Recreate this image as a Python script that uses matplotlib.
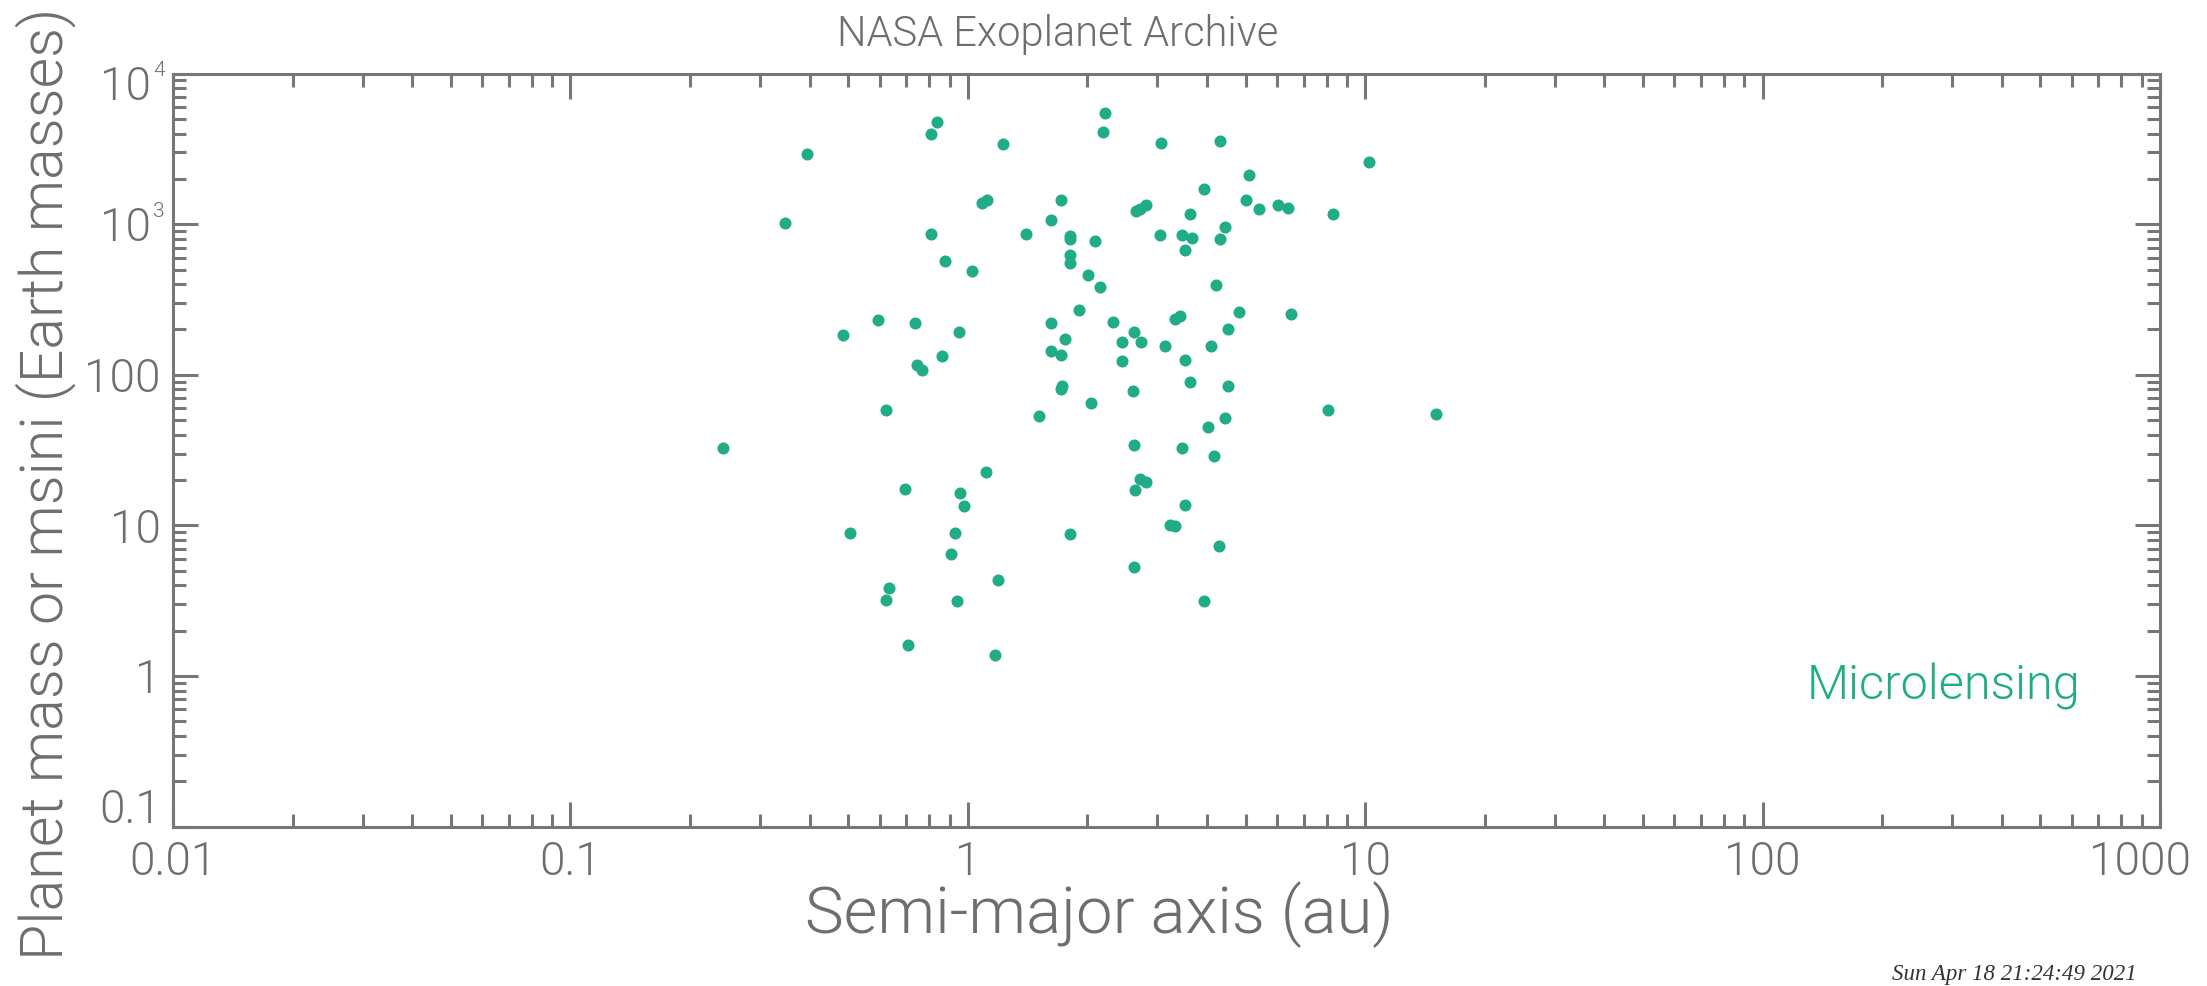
import matplotlib
matplotlib.use("Agg")
import matplotlib.pyplot as plt
from matplotlib import font_manager as fm
from matplotlib import transforms as mtransforms

# ---------------- data ----------------
semi_major_axis_au = [
    0.836, 0.807, 0.394, 0.346, 0.807, 0.877, 0.596, 0.737, 0.485, 0.952,
    0.859, 0.746, 0.769,
    2.215, 2.186, 1.223, 3.059, 3.940, 1.086, 1.115, 1.714, 1.615, 1.397,
    1.813, 1.813, 2.087, 1.813, 1.813, 1.025, 2.012, 2.157, 2.646, 2.719,
    2.815, 3.625, 3.047, 3.468, 3.661, 3.515, 1.902, 1.615, 2.316, 1.761,
    1.615, 1.714, 2.616, 2.440, 2.735, 3.318, 3.415, 3.126, 4.086, 3.515,
    2.440, 3.625,
    4.322, 10.22, 5.113, 5.024, 5.405, 6.047, 6.409, 8.318, 4.431, 4.322,
    4.206, 4.814, 6.521, 4.528, 4.528,
    0.624, 0.242, 0.696, 0.505, 0.930, 0.908, 0.635, 0.624, 0.938, 0.708,
    1.727, 1.714, 2.605, 2.039, 1.512, 4.027, 2.616, 3.468, 4.175, 1.108,
    0.956, 0.977, 2.719, 2.815, 2.636, 3.515, 3.222, 3.318, 1.813, 4.297,
    2.616, 1.190, 3.940, 1.169,
    8.049, 15.08, 4.450,
]
planet_mass_earth = [
    4790, 3970, 2907, 1012, 860, 569, 232, 220, 184, 193,
    134, 116.5, 107,
    5491, 4108, 3388, 3455, 1702, 1387, 1452, 1445, 1060, 860,
    838, 793, 776, 623, 549, 490, 461, 384, 1216, 1266,
    1345, 1162, 843, 843, 808, 676, 270, 221, 224, 174,
    144, 136, 193, 164, 164, 233, 244, 156, 156, 126,
    123, 89.4,
    3579, 2597, 2128, 1445, 1254, 1345, 1285, 1162, 952, 800,
    392, 260, 252, 201, 84.1,
    58.3, 32.5, 17.4, 8.85, 8.85, 6.48, 3.82, 3.18, 3.14, 1.61,
    83.8, 80.0, 77.6, 64.9, 53.2, 44.7, 34.0, 32.8, 28.9, 22.7,
    16.4, 13.5, 20.3, 19.3, 17.2, 13.6, 10.0, 9.9, 8.75, 7.32,
    5.31, 4.33, 3.14, 1.38,
    58.3, 54.8, 51.3,
]

x_ticks = [0.01, 0.1, 1, 10, 100, 1000]
x_tick_labels = ["0.01", "0.1", "1", "10", "100", "1000"]
y_ticks = [0.1, 1, 10, 100, 1000, 10000]
y_tick_bases = ["0.1", "1", "10", "100", "10", "10"]
y_tick_exps = ["", "", "", "", "3", "4"]

title_text = "NASA Exoplanet Archive"
x_label = "Semi-major axis (au)"
y_label = "Planet mass or msini (Earth masses)"
series_label = "Microlensing"
date_text = "Sun Apr 18 21:24:49 2021"

# ---------------- style ----------------
W, H, DPI = 2207, 987, 100
axis_gray = "#777777"
text_gray = "#6e6e6e"
teal = "#20ac86"


def find_light_font():
    fams = ["Roboto", "Lato", "Open Sans", "Noto Sans", "Inter"]
    for target in (300, 200, 100):
        for fam in fams:
            for f in fm.fontManager.ttflist:
                if f.name != fam or f.style != "normal":
                    continue
                w = f.weight
                if isinstance(w, str):
                    w = fm.weight_dict.get(w, 400)
                if w == target:
                    return f.fname
    return None


light_path = find_light_font()


def fp(size):
    if light_path:
        return fm.FontProperties(fname=light_path, size=size)
    return fm.FontProperties(family="DejaVu Sans", size=size)


fig = plt.figure(figsize=(W / DPI, H / DPI), dpi=DPI)
fig.patch.set_facecolor("white")

ax_left, ax_right, ax_top, ax_bottom = 173, 2160, 74.6, 827.6
ax = fig.add_axes([ax_left / W, 1 - ax_bottom / H,
                   (ax_right - ax_left) / W, (ax_bottom - ax_top) / H])

ax.scatter(semi_major_axis_au, planet_mass_earth, s=75, c=teal,
           linewidths=0, zorder=3)

ax.set_xscale("log")
ax.set_yscale("log")
ax.set_xlim(x_ticks[0], x_ticks[-1])
ax.set_ylim(y_ticks[0], y_ticks[-1])
ax.set_xticks(x_ticks)
ax.set_yticks(y_ticks)

for sp in ax.spines.values():
    sp.set_color(axis_gray)
    sp.set_linewidth(2.2)

ax.tick_params(which="both", direction="in", top=True, right=True,
               bottom=True, left=True, colors=axis_gray, width=2.2,
               labelbottom=False, labelleft=False)
ax.tick_params(which="major", length=18)
ax.tick_params(which="minor", length=9.4)

# x tick labels
tick_size = 33
xtrans = mtransforms.blended_transform_factory(ax.transData, ax.transAxes)
for val, lab in zip(x_ticks, x_tick_labels):
    dx = -20 if val == x_ticks[-1] else 0
    tr = mtransforms.offset_copy(xtrans, fig=fig, x=dx, y=-47, units="dots")
    ax.text(val, 0, lab, transform=tr, ha="center", va="baseline",
            fontproperties=fp(tick_size), color=text_gray, clip_on=False)

# y tick labels
ytrans = mtransforms.blended_transform_factory(ax.transAxes, ax.transData)
digit_h = 32.5
for val, base, exp in zip(y_ticks, y_tick_bases, y_tick_exps):
    dy = 0
    if val == y_ticks[0]:
        dy = 21
    elif val == y_ticks[-1]:
        dy = -9
    if exp:
        tr = mtransforms.offset_copy(ytrans, fig=fig, x=-22,
                                     y=dy - digit_h / 2, units="dots")
        ax.text(0, val, base, transform=tr, ha="right", va="baseline",
                fontproperties=fp(tick_size), color=text_gray, clip_on=False)
        tr2 = mtransforms.offset_copy(ytrans, fig=fig, x=-20,
                                      y=dy - digit_h / 2 + 24, units="dots")
        ax.text(0, val, exp, transform=tr2, ha="left", va="baseline",
                fontproperties=fp(15), color=text_gray, clip_on=False)
    else:
        tr = mtransforms.offset_copy(ytrans, fig=fig, x=-12,
                                     y=dy - digit_h / 2, units="dots")
        ax.text(0, val, base, transform=tr, ha="right", va="baseline",
                fontproperties=fp(tick_size), color=text_gray, clip_on=False)

# titles / labels
fig.text(1058 / W, 1 - 46.4 / H, title_text, ha="center", va="baseline",
         fontproperties=fp(30), color=text_gray)
fig.text(1099 / W, 1 - 933 / H, x_label, ha="center", va="baseline",
         fontproperties=fp(47), color=text_gray)
fig.text(63 / W, 1 - 484 / H, y_label, ha="center", va="baseline",
         rotation=90, rotation_mode="anchor",
         fontproperties=fp(42.5), color=text_gray)

fig.text(2080 / W, 1 - 700 / H, series_label, ha="right", va="baseline",
         fontproperties=fp(35), color=teal)

fig.text(2137 / W, 1 - 980 / H, date_text, ha="right", va="baseline",
         family=["Liberation Serif", "DejaVu Serif"], style="italic",
         fontsize=16.5, color="#333333")

fig.savefig("out.png", dpi=DPI, facecolor="white")
